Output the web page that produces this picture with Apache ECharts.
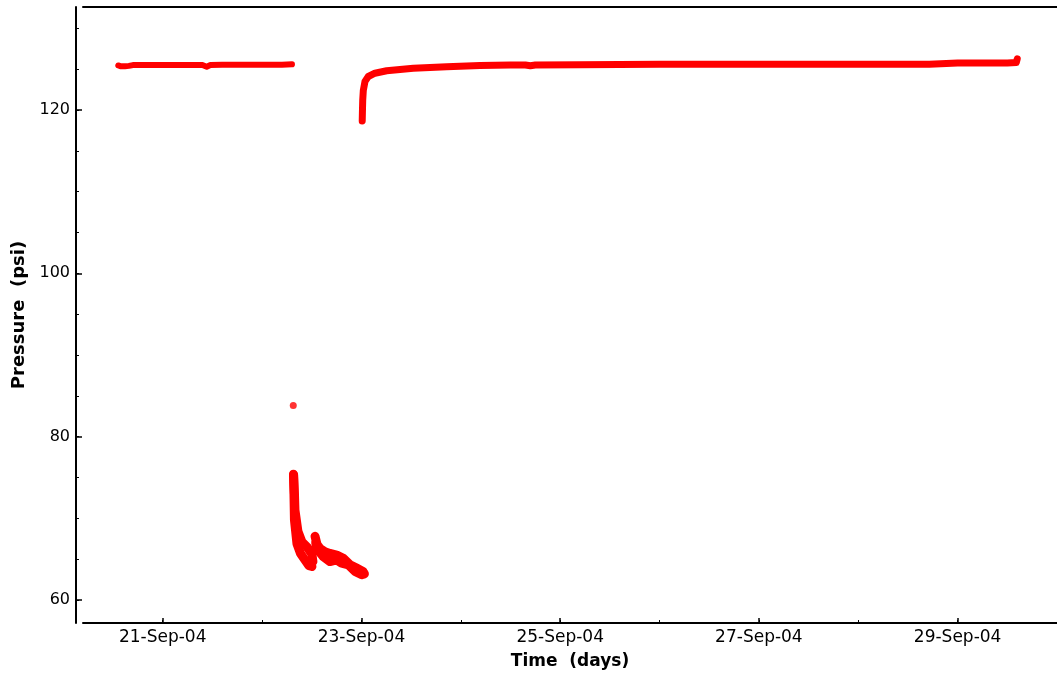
<!DOCTYPE html>
<html>
<head>
<meta charset="utf-8">
<script src="https://cdn.jsdelivr.net/npm/echarts@6/dist/echarts.min.js"></script>
<style>
html,body{margin:0;padding:0;background:#fff;}
#chart{width:1057px;height:675px;}
</style>
</head>
<body>
<div id="chart"></div>
<script>
// Axis ticks (day of September 2004, pressure in psi)
const xLabelDays = [21, 23, 25, 27, 29];
const xMinorDays = [20, 21, 22, 23, 24, 25, 26, 27, 28, 29, 30];
const yLabelValues = [60, 80, 100, 120];
const yMinorValues = [60, 65, 70, 75, 80, 85, 90, 95, 100, 105, 110, 115, 120, 125, 130];

// Before the test: stable pressure
const preDay = [20.553, 20.58, 20.62, 20.66, 20.70, 20.80, 20.90, 21.00, 21.10, 21.20, 21.30, 21.40, 21.443, 21.48, 21.60, 21.70, 21.80, 21.90, 22.00, 22.10, 22.20, 22.301];
const prePsi = [125.45, 125.35, 125.35, 125.4, 125.5, 125.5, 125.5, 125.5, 125.5, 125.5, 125.5, 125.5, 125.3, 125.5, 125.55, 125.55, 125.55, 125.55, 125.55, 125.55, 125.55, 125.6];

// Single isolated reading at the start of drawdown
const spikeDay = [22.314];
const spikePsi = [83.8];

// Drawdown, first part (lower/left edge and upper/right edge of the scatter band)
const draw1LowDay = [22.316, 22.321, 22.326, 22.351, 22.387, 22.432, 22.472, 22.502];
const draw1LowPsi = [75.4, 73.0, 69.8, 66.9, 65.7, 64.9, 64.2, 64.1];
const draw1HighDay = [22.318, 22.326, 22.331, 22.361, 22.402, 22.452, 22.502, 22.512];
const draw1HighPsi = [75.3, 73.0, 71.0, 68.4, 67.1, 66.5, 65.6, 64.7];

// Drawdown, second part (upper and lower edge of the scatter band)
const draw2HighDay = [22.533, 22.553, 22.583, 22.633, 22.683, 22.751, 22.817, 22.885, 22.952, 23.016];
const draw2HighPsi = [67.8, 66.8, 66.3, 65.9, 65.7, 65.5, 65.1, 64.3, 63.9, 63.5];
const draw2LowDay = [22.540, 22.550, 22.616, 22.683, 22.751, 22.801, 22.868, 22.935, 23.003, 23.030];
const draw2LowPsi = [67.0, 66.3, 65.3, 64.7, 64.9, 64.5, 64.3, 63.5, 63.1, 63.2];

// Recovery / build-up
const recDay = [23.008, 23.010, 23.013, 23.019, 23.036, 23.069, 23.136, 23.254, 23.522, 23.858, 24.193, 24.50, 24.65, 24.70, 24.75, 25.193, 26.00, 27.00, 28.00, 28.715, 28.725, 29.00, 29.50, 29.590, 29.600];
const recPsi = [118.65, 119.8, 121.2, 122.4, 123.5, 124.1, 124.5, 124.8, 125.1, 125.3, 125.45, 125.5, 125.5, 125.42, 125.5, 125.55, 125.6, 125.6, 125.6, 125.6, 125.75, 125.75, 125.75, 125.8, 126.25];

const zip = (a, b) => a.map((v, i) => [v, b[i]]);
const RED = '#ff0000';
const FONT = 'DejaVu Sans';

const chart = echarts.init(document.getElementById('chart'), null, {renderer: 'canvas'});

function lineSeries(data, width) {
  return {
    type: 'line', xAxisIndex: 0, yAxisIndex: 0, data: data,
    showSymbol: false, symbol: 'none',
    lineStyle: {color: RED, width: width, cap: 'round', join: 'round'},
    silent: true
  };
}

chart.setOption({
  animation: false,
  backgroundColor: '#ffffff',
  grid: {left: 83, right: 0, top: 7, bottom: 52, containLabel: false},
  xAxis: [
    {
      type: 'value', min: 20.198, max: 30.0, position: 'bottom',
      name: 'Time  (days)', nameLocation: 'middle', nameGap: 30,
      nameTextStyle: {fontFamily: FONT, fontWeight: 'bold', fontSize: 17, color: '#000'},
      axisLine: {show: true, onZero: false, lineStyle: {color: '#000', width: 2}},
      axisTick: {show: true, inside: true, length: 5, customValues: xLabelDays, lineStyle: {color: '#000', width: 1.5}},
      axisLabel: {show: true, customValues: xLabelDays, margin: 6, fontFamily: FONT, fontSize: 17, color: '#000',
        formatter: v => v + '-Sep-04'},
      splitLine: {show: false}
    },
    {
      type: 'value', min: 20.198, max: 30.0, position: 'bottom',
      axisLine: {show: false},
      axisTick: {show: true, inside: true, length: 3, customValues: xMinorDays, lineStyle: {color: '#000', width: 1}},
      axisLabel: {show: false},
      splitLine: {show: false}
    },
    {
      type: 'value', min: 20.198, max: 30.0, position: 'top',
      axisLine: {show: true, onZero: false, lineStyle: {color: '#000', width: 2}},
      axisTick: {show: false}, axisLabel: {show: false}, splitLine: {show: false}
    }
  ],
  yAxis: [
    {
      type: 'value', min: 57.18, max: 132.61, position: 'left', offset: 7,
      name: 'Pressure  (psi)', nameLocation: 'middle', nameGap: 45, nameRotate: 90,
      nameTextStyle: {fontFamily: FONT, fontWeight: 'bold', fontSize: 18, color: '#000'},
      axisLine: {show: true, onZero: false, lineStyle: {color: '#000', width: 2}},
      axisTick: {show: true, inside: true, length: 6, customValues: yLabelValues, lineStyle: {color: '#000', width: 1.5}},
      axisLabel: {show: true, customValues: yLabelValues, margin: 6, fontFamily: FONT, fontSize: 16, color: '#000'},
      splitLine: {show: false}
    },
    {
      type: 'value', min: 57.18, max: 132.61, position: 'left', offset: 7,
      axisLine: {show: false},
      axisTick: {show: true, inside: true, length: 3, customValues: yMinorValues, lineStyle: {color: '#000', width: 1}},
      axisLabel: {show: false}, splitLine: {show: false}
    }
  ],
  series: [
    lineSeries(zip(preDay, prePsi), 6),
    {
      type: 'scatter', xAxisIndex: 0, yAxisIndex: 0, data: zip(spikeDay, spikePsi),
      symbol: 'circle', symbolSize: 7, itemStyle: {color: RED}, silent: true
    },
    lineSeries(zip(draw1LowDay, draw1LowPsi), 9),
    lineSeries(zip(draw1HighDay, draw1HighPsi), 9),
    lineSeries(zip(draw2HighDay, draw2HighPsi), 9),
    lineSeries(zip(draw2LowDay, draw2LowPsi), 9),
    lineSeries(zip(recDay, recPsi), 7)
  ]
});
</script>
</body>
</html>
